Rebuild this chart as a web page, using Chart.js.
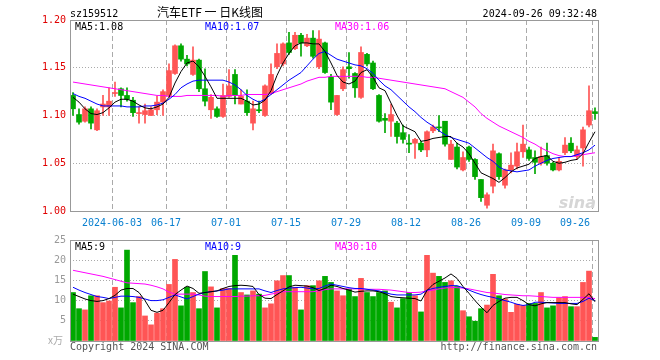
<!DOCTYPE html>
<html>
<head>
<meta charset="utf-8">
<script src="https://cdn.jsdelivr.net/npm/chart.js@4.4.1/dist/chart.umd.min.js"></script>
<style>
html, body { margin: 0; padding: 0; background: #fff; }
#wrap { position: relative; width: 660px; height: 360px; }
#kBox { position: absolute; left: 0; top: 0; width: 660px; height: 230px; }
#vBox { position: absolute; left: 0; top: 230px; width: 660px; height: 130px; }
</style>
</head>
<body>
<div id="wrap">
  <div id="kBox"><canvas id="kChart"></canvas></div>
  <div id="vBox"><canvas id="vChart"></canvas></div>
</div>
<script>
// trading days 2024-05-23 .. 2024-09-26
const dates = ['05-23','05-24','05-27','05-28','05-29','05-30','05-31',
  '06-03','06-04','06-05','06-06','06-07','06-11','06-12','06-13','06-14',
  '06-17','06-18','06-19','06-20','06-21','06-24','06-25','06-26','06-27','06-28',
  '07-01','07-02','07-03','07-04','07-05','07-08','07-09','07-10','07-11','07-12',
  '07-15','07-16','07-17','07-18','07-19','07-22','07-23','07-24','07-25','07-26',
  '07-29','07-30','07-31','08-01','08-02','08-05','08-06','08-07','08-08','08-09',
  '08-12','08-13','08-14','08-15','08-16','08-19','08-20','08-21','08-22','08-23',
  '08-26','08-27','08-28','08-29','08-30','09-02','09-03','09-04','09-05','09-06',
  '09-09','09-10','09-11','09-12','09-13','09-18','09-19','09-20','09-23','09-24','09-25','09-26'];

const opens = [1.121,1.101,1.094,1.107,1.085,1.109,1.109,1.123,1.128,1.121,1.116,1.102,1.101,1.100,1.106,1.114,
  1.121,1.144,1.173,1.159,1.143,1.158,1.128,1.106,1.107,1.099,1.120,1.143,1.112,1.115,1.092,1.106,1.100,1.123,1.151,1.154,
  1.176,1.170,1.184,1.173,1.181,1.151,1.176,1.140,1.101,1.128,1.151,1.144,1.119,1.164,1.155,1.121,1.097,1.094,1.092,1.082,
  1.071,1.071,1.071,1.064,1.084,1.088,1.094,1.054,1.067,1.043,1.067,1.054,1.033,1.006,1.026,1.060,1.027,1.043,1.047,1.062,
  1.064,1.056,1.050,1.058,1.050,1.043,1.061,1.071,1.057,1.066,1.090,1.104];
const highs = [1.124,1.107,1.109,1.109,1.107,1.121,1.129,1.135,1.129,1.129,1.119,1.109,1.112,1.109,1.120,1.127,
  1.154,1.174,1.175,1.163,1.172,1.159,1.149,1.122,1.109,1.133,1.148,1.148,1.127,1.127,1.115,1.115,1.132,1.154,1.175,1.176,
  1.187,1.187,1.186,1.185,1.189,1.189,1.177,1.143,1.121,1.151,1.166,1.145,1.172,1.165,1.157,1.122,1.102,1.112,1.094,1.090,
  1.080,1.076,1.073,1.084,1.090,1.100,1.094,1.074,1.071,1.062,1.068,1.055,1.033,1.019,1.070,1.061,1.044,1.061,1.071,1.090,
  1.067,1.063,1.067,1.071,1.051,1.056,1.077,1.077,1.068,1.088,1.131,1.108];
const lows = [1.100,1.091,1.093,1.086,1.084,1.100,1.100,1.120,1.109,1.115,1.099,1.092,1.092,1.100,1.101,1.100,
  1.119,1.143,1.157,1.152,1.142,1.125,1.110,1.097,1.098,1.098,1.119,1.112,1.112,1.100,1.085,1.103,1.099,1.122,1.149,1.152,
  1.164,1.169,1.162,1.172,1.160,1.149,1.144,1.106,1.100,1.126,1.139,1.119,1.118,1.152,1.127,1.093,1.082,1.078,1.071,1.071,
  1.061,1.055,1.062,1.057,1.082,1.083,1.068,1.054,1.044,1.042,1.052,1.033,1.010,1.003,1.019,1.033,1.024,1.040,1.044,1.056,
  1.053,1.039,1.048,1.048,1.042,1.042,1.059,1.061,1.054,1.047,1.088,1.096];
const closes = [1.107,1.093,1.107,1.092,1.105,1.112,1.115,1.124,1.121,1.117,1.103,1.102,1.105,1.106,1.114,1.125,
  1.147,1.173,1.159,1.154,1.158,1.128,1.115,1.119,1.099,1.121,1.131,1.121,1.120,1.103,1.107,1.105,1.131,1.143,1.165,1.175,
  1.166,1.184,1.176,1.181,1.162,1.180,1.145,1.114,1.121,1.148,1.149,1.129,1.166,1.154,1.128,1.094,1.095,1.101,1.078,1.075,
  1.070,1.075,1.064,1.083,1.088,1.087,1.070,1.070,1.046,1.056,1.054,1.036,1.014,1.017,1.063,1.036,1.043,1.048,1.062,1.070,
  1.055,1.051,1.057,1.050,1.043,1.052,1.069,1.063,1.064,1.085,1.105,1.102];

const ma5 = [1.119,1.114,1.107,1.102,1.101,1.103,1.108,1.114,1.117,1.117,1.115,1.111,1.108,1.107,1.109,1.112,
  1.119,1.134,1.146,1.155,1.157,1.151,1.141,1.130,1.118,1.118,1.118,1.118,1.118,1.115,1.111,1.112,1.116,1.126,1.142,1.155,
  1.165,1.173,1.176,1.176,1.175,1.175,1.167,1.155,1.142,1.135,1.133,1.136,1.145,1.148,1.140,1.129,1.126,1.113,1.100,1.089,
  1.086,1.083,1.073,1.074,1.076,1.077,1.078,1.078,1.071,1.067,1.060,1.050,1.040,1.037,1.034,1.030,1.035,1.041,1.045,1.047,
  1.049,1.055,1.057,1.058,1.052,1.050,1.051,1.053,1.054,1.060,1.072,1.083];
const ma10 = [1.123,1.120,1.118,1.115,1.112,1.110,1.110,1.110,1.110,1.109,1.109,1.109,1.110,1.110,1.111,1.113,
  1.117,1.122,1.129,1.133,1.136,1.137,1.137,1.137,1.137,1.137,1.135,1.132,1.127,1.121,1.117,1.114,1.117,1.122,1.127,1.132,
  1.137,1.141,1.145,1.152,1.159,1.165,1.167,1.163,1.159,1.157,1.155,1.153,1.152,1.149,1.144,1.137,1.131,1.127,1.121,1.115,
  1.109,1.104,1.098,1.093,1.089,1.084,1.080,1.077,1.075,1.073,1.071,1.066,1.061,1.056,1.052,1.046,1.043,1.042,1.041,1.042,
  1.043,1.047,1.050,1.053,1.055,1.056,1.057,1.057,1.059,1.061,1.064,1.069];
const ma30 = [1.135,1.134,1.133,1.132,1.131,1.130,1.129,1.128,1.127,1.126,1.125,1.124,1.123,1.122,1.121,1.121,
  1.120,1.120,1.120,1.121,1.121,1.121,1.121,1.121,1.121,1.120,1.121,1.121,1.121,1.122,1.122,1.122,1.122,1.123,1.125,1.127,
  1.129,1.131,1.133,1.136,1.138,1.140,1.140,1.141,1.141,1.141,1.141,1.141,1.141,1.140,1.140,1.139,1.138,1.137,1.136,1.135,
  1.134,1.133,1.132,1.131,1.130,1.129,1.128,1.125,1.122,1.119,1.114,1.109,1.102,1.097,1.093,1.089,1.086,1.083,1.080,1.077,
  1.073,1.070,1.066,1.063,1.060,1.058,1.057,1.057,1.058,1.059,1.060,1.061];

// volume, x万
const volumes = [12.0,8.0,7.7,11.2,11.2,9.5,9.9,13.3,8.2,22.5,9.5,11.0,6.2,4.0,6.9,8.0,
  14.0,20.2,8.7,13.3,12.0,8.0,17.2,13.4,8.2,13.0,13.0,21.2,12.0,11.4,12.4,11.6,8.2,9.2,14.9,16.2,
  16.2,13.3,7.7,13.7,13.7,14.9,16.0,14.5,12.4,11.2,12.8,11.0,15.5,12.0,11.0,12.0,12.4,9.6,8.2,10.5,
  12.0,11.2,7.2,21.2,16.8,16.0,14.5,14.9,13.5,7.5,6.0,4.9,8.0,8.9,16.5,11.2,10.4,7.1,9.1,8.8,
  9.3,9.3,12.0,8.2,8.7,10.7,11.0,8.5,8.5,14.5,17.3,0.9];
const volMa5 = [11.6,11.0,10.4,10.0,9.8,10.0,10.5,11.3,12.6,13.0,13.0,12.0,10.0,7.6,7.1,7.6,
  9.5,11.5,12.6,13.6,13.0,11.8,12.0,12.2,12.4,13.0,13.5,13.7,13.8,13.7,13.5,11.5,10.6,10.5,11.5,12.4,
  13.4,13.8,13.7,13.6,13.2,12.5,13.0,13.8,13.5,13.0,12.6,12.1,12.3,12.4,12.4,12.2,11.7,11.0,10.8,10.7,
  10.6,10.5,9.9,12.5,14.0,14.8,15.6,16.6,15.5,13.5,11.8,10.0,8.4,7.0,8.8,9.8,10.6,10.8,10.8,10.0,
  9.0,8.7,9.2,9.5,9.5,9.5,9.5,9.2,9.0,10.3,11.7,9.7];
const volMa10 = [13.3,12.6,12.0,11.5,11.0,10.8,10.5,10.8,11.1,11.1,11.0,10.8,10.4,10.0,10.0,10.2,
  10.8,11.4,10.9,10.4,11.0,11.6,12.0,12.2,12.4,12.6,12.9,12.9,12.9,12.9,12.9,12.9,12.4,12.0,12.5,12.9,
  13.1,13.2,13.3,13.1,12.9,13.0,13.6,14.1,13.8,13.5,13.2,13.0,13.0,12.8,12.6,12.4,12.0,11.6,11.4,11.4,
  11.4,11.4,11.6,12.6,13.0,13.3,13.5,13.7,13.7,13.2,12.6,12.0,11.5,11.1,10.8,10.4,10.0,9.6,9.1,8.8,
  9.0,9.6,9.6,9.5,9.4,9.3,9.3,9.3,9.3,9.8,10.6,10.0];
const volMa30 = [17.5,17.2,16.9,16.6,16.3,16.0,15.6,15.2,14.8,14.4,14.3,14.2,14.1,13.8,13.4,12.9,
  12.1,11.6,11.6,11.6,11.6,11.4,11.1,11.0,11.0,11.0,11.0,11.0,11.1,11.1,11.2,11.2,11.3,11.6,11.9,12.2,
  12.2,12.2,12.2,12.2,12.2,12.4,12.7,12.9,12.9,12.9,12.9,12.9,12.9,12.8,12.8,12.8,12.7,12.6,12.4,12.2,
  12.0,12.0,12.1,12.4,12.6,12.9,13.1,13.3,13.2,13.1,12.9,12.6,12.3,12.0,11.9,11.7,11.5,11.4,11.3,11.2,
  11.2,11.1,11.0,10.9,10.8,10.8,10.8,10.8,10.8,10.8,10.7,10.5];

const tickIdx = [7, 16, 26, 36, 46, 56, 66, 76, 87];
const tickLabels = ['2024-06-03', '06-17', '07-01', '07-15', '07-29', '08-12', '08-26', '09-09', '09-26'];

const UP = '#ff5555', DOWN = '#00a800';
const MONO = '"DejaVu Sans Mono", monospace';
const candleColor = ctx => closes[ctx.dataIndex] >= opens[ctx.dataIndex] ? UP : DOWN;
const at = (arr) => arr.map((v, i) => ({ x: i + 0.5, y: v }));
const maLine = (data, color) => ({
    type: 'line', data: at(data), borderColor: color, borderWidth: 1,
    pointRadius: 0, tension: 0, order: 0
});

// vertical dashed grid on the date ticks, shared by both panels
const xScale = () => ({
    type: 'linear', min: 0, max: dates.length, offset: false,
    afterBuildTicks: s => { s.ticks = tickIdx.map(v => ({ value: v })); },
    afterFit: s => { s.height = 19; },
    ticks: { display: false },
    grid: { color: '#aaa', drawTicks: false, offset: false },
    border: { display: false, dash: [5, 3] }
});

const frame = {
    id: 'frame',
    afterDraw(chart) {
        const { ctx, chartArea: a } = chart;
        ctx.save();
        ctx.strokeStyle = '#999';
        ctx.lineWidth = 1;
        ctx.strokeRect(Math.floor(a.left) + 0.5, Math.floor(a.top) + 0.5,
            Math.round(a.right - a.left), Math.round(a.bottom - a.top));
        const t = chart.options.plugins.frame.texts || [];
        t.forEach(o => {
            ctx.font = o.font || ('10px ' + MONO);
            ctx.fillStyle = o.color;
            ctx.textAlign = o.align || 'left';
            ctx.fillText(o.text, o.x, o.y);
        });
        ctx.restore();
    }
};

const dateLabels = {
    id: 'dateLabels',
    afterDraw(chart) {
        const { ctx, chartArea: a, scales: { x } } = chart;
        ctx.save();
        ctx.font = '10px ' + MONO;
        ctx.fillStyle = '#0a80d0';
        ctx.textAlign = 'center';
        tickIdx.forEach((v, k) => {
            const w = ctx.measureText(tickLabels[k]).width;
            const px = Math.min(x.getPixelForValue(v), a.right - 8 - w / 2);
            ctx.fillText(tickLabels[k], px, 225.5);
        });
        ctx.restore();
    }
};

const watermark = {
    id: 'watermark',
    beforeDatasetsDraw(chart) {
        const { ctx, chartArea: a } = chart;
        ctx.save();
        ctx.font = 'italic bold 16px "DejaVu Sans", sans-serif';
        ctx.fillStyle = '#d6d6d6';
        ctx.textAlign = 'right';
        ctx.fillText('sina', a.right - 2, a.bottom - 3);
        ctx.restore();
    }
};

new Chart(document.getElementById('kChart'), {
    type: 'bar',
    data: {
        datasets: [
            maLine(ma5, '#000'),
            maLine(ma10, '#0000ff'),
            maLine(ma30, '#ff00ff'),
            {
                data: dates.map((d, i) => ({ x: i + 0.5, y: [opens[i], closes[i]] })),
                backgroundColor: candleColor, barThickness: 5, minBarLength: 1,
                grouped: false, order: 1
            },
            {
                data: dates.map((d, i) => ({ x: i + 0.5, y: [lows[i], highs[i]] })),
                backgroundColor: candleColor, barThickness: 1,
                grouped: false, order: 2
            }
        ]
    },
    options: {
        responsive: true, maintainAspectRatio: false, animation: false,
        devicePixelRatio: 1,
        layout: { padding: { top: 20, right: 62, left: 0, bottom: 0 } },
        scales: {
            x: xScale(),
            y: {
                min: 1.0, max: 1.2,
                afterFit: s => { s.width = 70; },
                ticks: { stepSize: 0.05, padding: 4, color: '#e00000',
                    font: { family: MONO, size: 10 }, callback: v => v.toFixed(2) },
                grid: { color: '#aaa', drawTicks: false },
                border: { display: false, dash: [1, 2] }
            }
        },
        plugins: {
            legend: { display: false }, tooltip: { enabled: false },
            frame: { texts: [
                { text: 'sz159512', x: 70, y: 17, color: '#000' },
                { text: '汽车ETF 一 日K线图', x: 210, y: 17, color: '#000', align: 'center',
                  font: '12px "Noto Sans CJK SC", sans-serif' },
                { text: '2024-09-26 09:32:48', x: 597, y: 16.5, color: '#000', align: 'right' },
                { text: 'MA5:1.08', x: 75, y: 29.5, color: '#000' },
                { text: 'MA10:1.07', x: 205, y: 29.5, color: '#0000ff' },
                { text: 'MA30:1.06', x: 335, y: 29.5, color: '#ff00ff' }
            ] }
        }
    },
    plugins: [frame, dateLabels, watermark]
});

new Chart(document.getElementById('vChart'), {
    type: 'bar',
    data: {
        datasets: [
            maLine(volMa5, '#000'),
            maLine(volMa10, '#0000ff'),
            maLine(volMa30, '#ff00ff'),
            {
                data: at(volumes),
                backgroundColor: candleColor, barThickness: 5,
                grouped: false, order: 1
            }
        ]
    },
    options: {
        responsive: true, maintainAspectRatio: false, animation: false,
        devicePixelRatio: 1,
        layout: { padding: { top: 10, right: 62, left: 0, bottom: 0 } },
        scales: {
            x: xScale(),
            y: {
                min: 0, max: 25,
                afterFit: s => { s.width = 70; },
                ticks: { stepSize: 5, padding: 4, color: '#999',
                    font: { family: MONO, size: 10 }, callback: v => v === 0 ? '' : v },
                grid: { color: '#aaa', drawTicks: false },
                border: { display: false, dash: [1, 2] }
            }
        },
        plugins: {
            legend: { display: false }, tooltip: { enabled: false },
            frame: { texts: [
                { text: 'MA5:9', x: 75, y: 20, color: '#000' },
                { text: 'MA10:9', x: 205, y: 20, color: '#0000ff' },
                { text: 'MA30:10', x: 335, y: 20, color: '#ff00ff' },
                { text: 'x万', x: 48, y: 114, color: '#aaa',
                  font: '10px "Noto Sans CJK SC", sans-serif' },
                { text: 'Copyright 2024 SINA.COM', x: 70, y: 120, color: '#555' },
                { text: 'http://finance.sina.com.cn', x: 597, y: 120, color: '#555', align: 'right' }
            ] }
        }
    },
    plugins: [frame]
});
</script>
</body>
</html>
